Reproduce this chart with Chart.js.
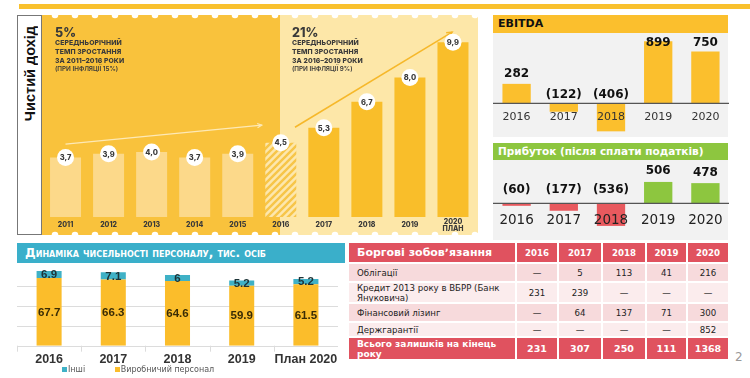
<!DOCTYPE html>
<html>
<head>
<meta charset="utf-8">
<script src="https://cdn.jsdelivr.net/npm/chart.js@4.4.1/dist/chart.umd.min.js"></script>
<style>
  html,body{margin:0;padding:0;background:#fff;}
  body{width:750px;height:378px;position:relative;overflow:hidden;font-family:"DejaVu Sans",Verdana,sans-serif;}
  .abs{position:absolute;}
  canvas{position:absolute;display:block;}
  .info{font-family:Inter,"Open Sans",sans-serif;color:#3a3a3a;font-weight:800;}
  .info .pct{font-size:12.5px;line-height:14px;}
  .info .sub{font-size:6.8px;line-height:8.8px;letter-spacing:0.1px;}
  .info .sub2{font-size:6.3px;line-height:8.8px;font-weight:600;}
  #debt{position:absolute;left:349px;top:243px;display:grid;
    grid-template-columns:166px 40px 42px 42px 39px 40px;
    grid-template-rows:19px 17px 19px 17px 13px 21px;gap:2px;background:#fff;}
  #debt div{display:flex;align-items:center;justify-content:center;font-size:8.6px;color:#222;overflow:hidden;}
  #debt div.first{justify-content:flex-start;padding-left:8px;line-height:10px;}
  #debt div.h{background:#e0525f;color:#fff;font-weight:bold;font-size:8.6px;}
  #debt div.h.first{font-size:11px;}
  #debt div.t{background:#e0525f;color:#fff;font-weight:bold;font-size:9.5px;}
  #debt div.t.first{align-items:flex-start;font-size:9px;line-height:10px;padding-top:1px;}
  #debt div.r1{background:#f7dadc;}
  #debt div.r2{background:#fbeced;}
</style>
</head>
<body>
<div class="abs" style="left:19px;top:4px;width:731px;height:5px;background:#f9c12e;"></div>

<div class="abs" style="left:17px;top:15px;width:25px;height:220px;border:1.5px solid #777;box-sizing:border-box;background:#fff;display:flex;align-items:flex-start;justify-content:center;">
  <div style="writing-mode:vertical-rl;transform:rotate(180deg);font-family:Arial,'Liberation Sans',sans-serif;font-weight:bold;font-size:14.5px;color:#111;margin-top:10px;">Чистий дохід</div>
</div>

<canvas id="rev" width="436" height="220" style="left:42px;top:15px;"></canvas>

<div class="abs info" style="left:55px;top:26px;">
  <div class="pct">5%</div>
  <div class="sub" style="margin-top:-1px;">СЕРЕДНЬОРІЧНИЙ<br>ТЕМП ЗРОСТАННЯ<br>ЗА 2011–2016 РОКИ</div>
  <div class="sub2">(ПРИ ІНФЛЯЦІЇ 15%)</div>
</div>
<div class="abs info" style="left:292px;top:26px;">
  <div class="pct">21%</div>
  <div class="sub" style="margin-top:-1px;">СЕРЕДНЬОРІЧНИЙ<br>ТЕМП ЗРОСТАННЯ<br>ЗА 2016–2019 РОКИ</div>
  <div class="sub2">(ПРИ ІНФЛЯЦІЇ 9%)</div>
</div>

<div class="abs" style="left:493px;top:15px;width:235px;height:18px;background:#fbbf2d;font-weight:bold;font-size:11px;line-height:18px;color:#111;padding-left:5px;box-sizing:border-box;">EBITDA</div>
<div class="abs" style="left:493px;top:33px;width:235px;height:104px;background:#f2f2f2;"></div>
<canvas id="ebitda" width="236" height="104" style="left:493px;top:33px;"></canvas>

<div class="abs" style="left:493px;top:143px;width:235px;height:17px;background:#8dc63f;font-weight:bold;font-size:10.5px;line-height:17px;color:#fff;padding-left:5px;box-sizing:border-box;white-space:nowrap;">Прибуток (після сплати податків)</div>
<div class="abs" style="left:493px;top:160px;width:235px;height:80px;background:#f2f2f2;"></div>
<canvas id="profit" width="236" height="80" style="left:493px;top:160px;"></canvas>

<div class="abs" style="left:17px;top:243px;width:328px;height:20px;background:#3aafca;color:#fff;font-weight:bold;font-size:12px;line-height:20px;padding-left:8px;box-sizing:border-box;font-variant:small-caps;white-space:nowrap;">Динаміка чисельності персоналу, тис. осіб</div>
<canvas id="staff" width="321" height="115" style="left:17px;top:263px;"></canvas>
<div class="abs" style="left:62px;top:365px;font-size:8px;color:#555;white-space:nowrap;line-height:10px;">
  <span style="display:inline-block;width:5px;height:5px;background:#3fb1c6;margin-right:1px;"></span>Інші
  <span style="display:inline-block;width:5px;height:5px;background:#fbbd2b;margin-left:27px;margin-right:1px;"></span>Виробничий персонал
</div>

<div id="debt"></div>
<div class="abs" style="left:735px;top:350px;font-size:12px;color:#999;">2</div>

<script>
// ---------------- DATA ----------------
const revYears = ['2011','2012','2013','2014','2015','2016','2017','2018','2019','2020'];
const revValues = [3.7, 3.9, 4.0, 3.7, 3.9, 4.5, 5.3, 6.7, 8.0, 9.9];

const finYears = ['2016','2017','2018','2019','2020'];
const ebitdaValues = [282, -122, -406, 899, 750];
const profitValues = [-60, -177, -536, 506, 478];

const staffYears = ['2016','2017','2018','2019','План 2020'];
const staffProduction = [67.7, 66.3, 64.6, 59.9, 61.5];
const staffOther = [6.9, 7.1, 6, 5.2, 5.2];

const debtTitle = 'Боргові зобов\u02BCязання';
const debtYears = ['2016','2017','2018','2019','2020'];
const debtRowNames = ['Облігації','Кредит 2013 року в ВБРР (Банк Януковича)','Фінансовий лізинг','Держгарантії'];
const debtBonds = ['—','5','113','41','216'];
const debtVbrr = ['231','239','—','—','—'];
const debtLeasing = ['—','64','137','71','300'];
const debtGuarantees = ['—','—','—','—','852'];
const debtTotalName = 'Всього залишків на кінець року';
const debtTotal = ['231','307','250','111','1368'];

// ---------------- TABLE ----------------
(function(){
  const t = document.getElementById('debt');
  const add = (txt, cls) => { const d = document.createElement('div'); d.className = cls; d.textContent = txt; t.appendChild(d); };
  add(debtTitle, 'h first');
  debtYears.forEach(y => add(y, 'h'));
  const rows = [debtBonds, debtVbrr, debtLeasing, debtGuarantees];
  rows.forEach((r, i) => {
    const cls = i % 2 === 0 ? 'r1' : 'r2';
    add(debtRowNames[i], cls + ' first');
    r.forEach(v => add(v, cls));
  });
  add(debtTotalName, 't first');
  debtTotal.forEach(v => add(v, 't'));
})();

// ---------------- REVENUE INFOGRAPHIC ----------------
function hatch(){
  const c = document.createElement('canvas'); c.width = 7; c.height = 7;
  const g = c.getContext('2d');
  g.fillStyle = '#fde7ad'; g.fillRect(0,0,7,7);
  g.strokeStyle = '#f7c548'; g.lineWidth = 2.4;
  g.beginPath();
  g.moveTo(-1,8); g.lineTo(8,-1);
  g.moveTo(-4.5,4.5); g.lineTo(4.5,-4.5);
  g.moveTo(2.5,11.5); g.lineTo(11.5,2.5);
  g.stroke();
  return g.createPattern(c, 'repeat');
}
function arrow(ctx, x1, y1, x2, y2, color, w, hs){
  ctx.save();
  ctx.strokeStyle = color; ctx.fillStyle = color; ctx.lineWidth = w;
  ctx.beginPath(); ctx.moveTo(x1,y1); ctx.lineTo(x2,y2); ctx.stroke();
  const a = Math.atan2(y2-y1, x2-x1);
  ctx.beginPath();
  ctx.moveTo(x2 - hs*Math.cos(a - 0.45), y2 - hs*Math.sin(a - 0.45));
  ctx.lineTo(x2, y2);
  ctx.lineTo(x2 - hs*Math.cos(a + 0.45), y2 - hs*Math.sin(a + 0.45));
  ctx.stroke();
  ctx.restore();
}
const revColors = revValues.map((v,i) => i < 5 ? '#fcd98a' : (i === 5 ? hatch() : '#f9be2a'));
const revPlugin = {
  id: 'revDeco',
  beforeDraw(chart){
    const ctx = chart.ctx, W = chart.width, H = chart.height;
    ctx.save();
    ctx.fillStyle = '#f9c23c'; ctx.fillRect(0,0,238,H);
    ctx.fillStyle = '#fde7a8'; ctx.fillRect(238,0,W-238,H);
    ctx.fillStyle = '#fff';
    for (let x = -7; x < W + 10; x += 20){
      ctx.beginPath(); ctx.arc(x, 0, 3.3, 0, Math.PI*2); ctx.fill();
      ctx.beginPath(); ctx.arc(x, H, 3.3, 0, Math.PI*2); ctx.fill();
    }
    ctx.restore();
  },
  afterDatasetsDraw(chart){
    const ctx = chart.ctx, meta = chart.getDatasetMeta(0), y = chart.scales.y;
    const x0 = meta.data[0].x, dx = meta.data[1].x - meta.data[0].x;
    const px = i => x0 + i*dx;
    arrow(ctx, px(0), y.getPixelForValue(4.42), px(4.56), y.getPixelForValue(5.44), '#fde9b6', 1.2, 5);
    arrow(ctx, px(5.33), y.getPixelForValue(5.33), px(8.98), y.getPixelForValue(10.45), '#f6b82a', 1.5, 6);
    ctx.save();
    ctx.textAlign = 'center'; ctx.textBaseline = 'middle';
    meta.data.forEach((bar, i) => {
      ctx.fillStyle = '#fff';
      ctx.beginPath(); ctx.arc(bar.x, bar.y, 8.5, 0, Math.PI*2); ctx.fill();
      ctx.fillStyle = '#3a3a3a';
      ctx.font = '800 7.5px Inter, "Open Sans", sans-serif';
      ctx.fillText(revValues[i].toFixed(1).replace('.', ','), bar.x, bar.y + 0.5);
      ctx.font = '800 7px Inter, "Open Sans", sans-serif';
      const b = chart.chartArea.bottom;
      if (i === revValues.length - 1){
        ctx.fillText(revYears[i], bar.x, b + 4.5);
        ctx.fillText('ПЛАН', bar.x, b + 12.3);
      } else {
        ctx.fillText(revYears[i], bar.x, b + 8);
      }
    });
    ctx.restore();
  }
};
new Chart(document.getElementById('rev'), {
  type: 'bar',
  data: { labels: revYears, datasets: [{ data: revValues, backgroundColor: revColors, borderWidth: 0, barPercentage: 0.72, categoryPercentage: 1 }] },
  options: {
    responsive: false, animation: false,
    layout: { padding: { left: 2, right: 3.5, top: 5, bottom: 18 } },
    scales: { x: { display: false }, y: { display: false, min: 0.5, max: 11.1 } },
    plugins: { legend: { display: false }, tooltip: { enabled: false } }
  },
  plugins: [revPlugin]
});

// ---------------- EBITDA / PROFIT ----------------
function finPlugin(values, opt){
  return {
    id: 'fin' + opt.key,
    afterDatasetsDraw(chart){
      const ctx = chart.ctx, meta = chart.getDatasetMeta(0);
      const zy = chart.scales.y.getPixelForValue(0);
      ctx.save();
      ctx.strokeStyle = '#555'; ctx.lineWidth = 1.3;
      ctx.beginPath(); ctx.moveTo(0, zy); ctx.lineTo(chart.width, zy); ctx.stroke();
      ctx.textAlign = 'center'; ctx.textBaseline = 'middle';
      meta.data.forEach((bar, i) => {
        const v = values[i];
        ctx.fillStyle = '#111';
        ctx.font = 'bold 12px "DejaVu Sans", Verdana, sans-serif';
        let ly;
        if (v >= 0) ly = Math.max(bar.y - opt.posOff, opt.minY);
        else ly = zy - opt.negOff;
        ctx.fillText(v >= 0 ? String(v) : '(' + Math.abs(v) + ')', bar.x, ly);
        ctx.fillStyle = opt.yearColor;
        ctx.font = opt.yearFont;
        ctx.fillText(finYears[i], bar.x, zy + opt.yearOff);
      });
      ctx.restore();
    }
  };
}
new Chart(document.getElementById('ebitda'), {
  type: 'bar',
  data: { labels: finYears, datasets: [{ data: ebitdaValues, backgroundColor: '#fbbf2d', borderWidth: 0, barPercentage: 0.6, categoryPercentage: 1 }] },
  options: {
    responsive: false, animation: false,
    layout: { padding: 0 },
    scales: { x: { display: false }, y: { display: false, min: -488, max: 1019 } },
    plugins: { legend: { display: false }, tooltip: { enabled: false } }
  },
  plugins: [finPlugin(ebitdaValues, { key: 'e', posOff: 10, minY: 10, negOff: 8, yearOff: 13.4, yearFont: '11px "DejaVu Sans", Verdana, sans-serif', yearColor: '#333' })]
});
new Chart(document.getElementById('profit'), {
  type: 'bar',
  data: { labels: finYears, datasets: [{ data: profitValues, backgroundColor: profitValues.map(v => v < 0 ? '#e8595e' : '#8dc63f'), borderWidth: 0, barPercentage: 0.6, categoryPercentage: 1 }] },
  options: {
    responsive: false, animation: false,
    layout: { padding: 0 },
    scales: { x: { display: false }, y: { display: false, min: -870, max: 1026 } },
    plugins: { legend: { display: false }, tooltip: { enabled: false } }
  },
  plugins: [finPlugin(profitValues, { key: 'p', posOff: 10.7, minY: 0, negOff: 13.5, yearOff: 17.4, yearFont: '13.5px "DejaVu Sans", Verdana, sans-serif', yearColor: '#222' })]
});

// ---------------- STAFF ----------------
const staffPlugin = {
  id: 'staffDeco',
  beforeDatasetsDraw(chart){
    const ctx = chart.ctx, a = chart.chartArea, y = chart.scales.y;
    ctx.save();
    ctx.strokeStyle = '#dcdcdc'; ctx.lineWidth = 1;
    [0, 20, 40, 60].forEach(v => {
      const py = Math.round(y.getPixelForValue(v)) + 0.5;
      ctx.beginPath(); ctx.moveTo(0, py); ctx.lineTo(chart.width, py); ctx.stroke();
    });
    const m = chart.getDatasetMeta(0);
    const dx = m.data[1].x - m.data[0].x;
    for (let i = 0; i <= m.data.length; i++){
      const px = Math.round(m.data[0].x - dx/2 + i*dx) + 0.5;
      ctx.beginPath(); ctx.moveTo(px, a.bottom); ctx.lineTo(px, a.bottom + 6); ctx.stroke();
    }
    ctx.restore();
  },
  afterDatasetsDraw(chart){
    const ctx = chart.ctx, a = chart.chartArea;
    const m0 = chart.getDatasetMeta(0), m1 = chart.getDatasetMeta(1);
    ctx.save();
    ctx.textAlign = 'center'; ctx.textBaseline = 'middle';
    ctx.font = 'bold 11.5px "Liberation Sans", Arial, sans-serif';
    m0.data.forEach((bar, i) => {
      ctx.fillStyle = '#3a2c05';
      ctx.fillText(String(staffProduction[i]), bar.x, (bar.y + bar.base)/2 + 0.5);
      const t = m1.data[i];
      ctx.fillStyle = '#1d3438';
      ctx.fillText(String(staffOther[i]), t.x, (t.y + t.base)/2 + 0.5);
    });
    ctx.fillStyle = '#333';
    ctx.font = 'bold 12.5px "Liberation Sans", Arial, sans-serif';
    m0.data.forEach((bar, i) => ctx.fillText(staffYears[i], bar.x, a.bottom + 13.5));
    ctx.restore();
  }
};
new Chart(document.getElementById('staff'), {
  type: 'bar',
  data: { labels: staffYears, datasets: [
    { label: 'Виробничий персонал', data: staffProduction, backgroundColor: '#fbbd2b', borderWidth: 0, barPercentage: 0.39, categoryPercentage: 1 },
    { label: 'Інші', data: staffOther, backgroundColor: '#3fb1c6', borderWidth: 0, barPercentage: 0.39, categoryPercentage: 1 }
  ] },
  options: {
    responsive: false, animation: false,
    layout: { padding: { left: 0, right: 0, top: 2.7, bottom: 32.3 } },
    scales: { x: { display: false, stacked: true }, y: { display: false, stacked: true, min: 0, max: 80 } },
    plugins: { legend: { display: false }, tooltip: { enabled: false } }
  },
  plugins: [staffPlugin]
});
</script>
</body>
</html>
